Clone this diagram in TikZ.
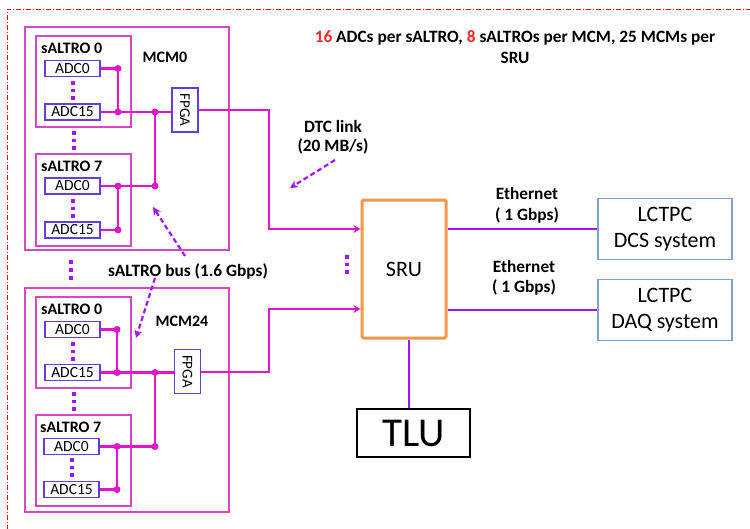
\documentclass[tikz,border=0pt]{standalone}
\usepackage{fontspec}
\setmainfont{Carlito}
\usetikzlibrary{positioning}
\usetikzlibrary{arrows.meta}

\definecolor{busmag}{RGB}{230,20,200}
\definecolor{boxmag}{RGB}{215,70,195}
\definecolor{adcblue}{RGB}{100,60,230}
\definecolor{ethpurp}{RGB}{160,20,250}
\definecolor{sruorange}{RGB}{247,150,70}
\definecolor{lcblue}{RGB}{126,160,210}
\definecolor{numred}{RGB}{255,40,40}

\tikzset{
  mcmbox/.style={draw=boxmag,line width=1.2pt,inner sep=0pt},
  altrobox/.style={draw=boxmag,line width=1.2pt,inner sep=0pt,minimum width=95pt},
  adcbox/.style={draw=adcblue,line width=1.1pt,inner sep=0pt,minimum width=55pt,minimum height=16pt,font=\fontsize{15.5}{15.5}\selectfont},
  fpgabox/.style={draw=adcblue,line width=1.1pt,inner sep=0pt,minimum width=26pt,minimum height=44pt},
  lbl/.style={font=\bfseries\fontsize{16}{18}\selectfont,inner sep=0pt},
  biglbl/.style={font=\bfseries\fontsize{17.3}{21}\selectfont,inner sep=0pt},
  bus/.style={draw=busmag,line width=2.4pt},
  jdot/.style={circle,fill=busmag,inner sep=0pt,minimum size=7pt},
  eth/.style={draw=ethpurp,line width=2.6pt},
  note/.style={draw=ethpurp,line width=2.2pt,dash pattern=on 5pt off 3pt,-{Stealth[length=8pt,width=8pt]}},
  lcbox/.style={draw=lcblue,line width=1.2pt,minimum width=134pt,minimum height=61pt,align=center,font=\fontsize{22}{26}\selectfont},
  sq/.style={fill=ethpurp}
}

\begin{document}
\begin{tikzpicture}[x=1pt,y=-1pt]
\useasboundingbox (0,0) rectangle (750,528);
\draw[red,thin,dash pattern=on 5pt off 2pt on 1pt off 2pt] (7,540) -- (7,9) -- (760,9);

% title
\node[biglbl,align=center] (title) at (515,47) {{\color{numred}16} ADCs per sALTRO, {\color{numred}8} sALTROs per MCM, 25 MCMs per\\SRU};

% MCM0
\node[mcmbox,minimum width=204pt,minimum height=223pt] (mcma) at (127,138.5) {};
\node[lbl] (mcmalbl) at (165,57) {MCM0};
\node[altrobox,minimum height=91pt] (alta0) at (83.5,81.5) {};
\node[lbl,anchor=west] at (41,48) {sALTRO 0};
\node[adcbox] (adca00) at (72.5,68.5) {ADC0};
\node[adcbox] (adca015) at (72.5,112) {ADC15};
\node[altrobox,minimum height=92pt] (alta7) at (83.5,200) {};
\node[lbl,anchor=west] at (41,166) {sALTRO 7};
\node[adcbox] (adca70) at (72.5,186) {ADC0};
\node[adcbox] (adca715) at (72.5,230) {ADC15};
\node[fpgabox] (fpgaa) at (185,110) {};
\node[rotate=-90,font=\fontsize{15}{15}\selectfont] at (fpgaa) {FPGA};
\node[jdot] (ja1) at (118,68.5) {};
\node[jdot] (ja2) at (118,112) {};
\node[jdot] (ja3) at (155,112) {};
\node[jdot] (ja4) at (118,186) {};
\node[jdot] (ja5) at (118,230) {};
\node[jdot] (ja6) at (155,186) {};
\draw[bus] (adca00.east) -- (ja1.center) -- (ja2.center);
\draw[bus] (adca015.east) -- (ja2.center) -- (ja3.center) -- (fpgaa.west |- ja3);
\draw[bus] (adca70.east) -- (ja4.center) -- (ja6.center) -- (ja3.center);
\draw[bus] (adca715.east) -- (ja5.center) -- (ja4.center);

% MCM24
\node[mcmbox,minimum width=204pt,minimum height=224pt] (mcmb) at (127,400) {};
\node[lbl] (mcmblbl) at (182,321) {MCM24};
\node[altrobox,minimum height=91pt] (altb0) at (83.5,342.5) {};
\node[lbl,anchor=west] at (41,309) {sALTRO 0};
\node[adcbox] (adcb00) at (72.5,329.5) {ADC0};
\node[adcbox] (adcb015) at (72.5,372.5) {ADC15};
\node[altrobox,minimum height=91pt] (altb7) at (83.5,460.5) {};
\node[lbl,anchor=west] at (40,427) {sALTRO 7};
\node[adcbox] (adcb70) at (71.5,446.5) {ADC0};
\node[adcbox] (adcb715) at (71.5,489.5) {ADC15};
\node[fpgabox] (fpgab) at (187.5,371.5) {};
\node[rotate=-90,font=\fontsize{15}{15}\selectfont] at (fpgab) {FPGA};
\node[jdot] (jb1) at (117,329.5) {};
\node[jdot] (jb2) at (117,372.5) {};
\node[jdot] (jb3) at (155,372.5) {};
\node[jdot] (jb4) at (117,446.5) {};
\node[jdot] (jb5) at (117,489.5) {};
\node[jdot] (jb6) at (155,446.5) {};
\draw[bus] (adcb00.east) -- (jb1.center) -- (jb2.center);
\draw[bus] (adcb015.east) -- (jb2.center) -- (jb3.center) -- (fpgab.west |- jb3);
\draw[bus] (adcb70.east) -- (jb4.center) -- (jb6.center) -- (jb3.center);
\draw[bus] (adcb715.east) -- (jb5.center) -- (jb4.center);

% dots
\foreach \px/\py in {73/83, 73/90.5, 73/98, 74/133, 74/140.5, 74/148, 73/201, 73/208.5, 73/216,
    73/344, 73/351.5, 73/359, 74/394, 74/401.5, 74/409,
    72/460, 72/467.5, 72/475, 71/262, 71/270, 71/278, 347/257, 347/264.5, 347/272}
  \fill[sq] (\px-1.8,\py-1.8) rectangle (\px+1.8,\py+1.8);

% SRU and outside
\node[draw=sruorange,line width=3pt,rounded corners=1.5pt,minimum width=84pt,minimum height=138pt,font=\fontsize{22}{22}\selectfont] (sru) at (404,269) {SRU};
\node[lcbox] (dcs) at (665,229) {LCTPC\\DCS system};
\node[lcbox] (daq) at (665,310) {LCTPC\\DAQ system};
\node[draw=black,line width=2pt,minimum width=113pt,minimum height=48pt,font=\fontsize{41}{41}\selectfont] (tlu) at (413.5,433) {TLU};

\coordinate (dtca) at (269,229);
\coordinate (dtcb) at (269,309);
\draw[bus,line width=2pt,-{Stealth[length=7pt,width=8pt]}] (fpgaa.east) -- (fpgaa.east -| dtca) -- (dtca) -- (dtca -| sru.west);
\draw[bus,line width=2pt,-{Stealth[length=7pt,width=8pt]}] (fpgab.east) -- (fpgab.east -| dtcb) -- (dtcb) -- (dtcb -| sru.west);
\draw[eth] (sru.east |- dcs.west) -- (dcs.west);
\draw[eth] (sru.east |- daq.west) -- (daq.west);
\draw[eth,line width=2.2pt] (sru.south -| 409,0) -- (tlu.north -| 409,0);

% labels
\node[biglbl] (ethalbl) at (527,193) {Ethernet};
\node[biglbl] at (527,215) {( 1 Gbps)};
\node[biglbl] (ethblbl) at (524,266) {Ethernet};
\node[biglbl] at (524,287) {( 1 Gbps)};
\node[biglbl] (dtclbl) at (333,126) {DTC link};
\node[biglbl] at (333,146) {(20 MB/s)};
\node[biglbl] (buslbl) at (188,271) {sALTRO bus (1.6 Gbps)};
\draw[note] (335,160) -- (290,188);
\draw[note] (185,256) -- (153,207);
\draw[note] (155,278) -- (136,338);

\end{tikzpicture}
\end{document}
